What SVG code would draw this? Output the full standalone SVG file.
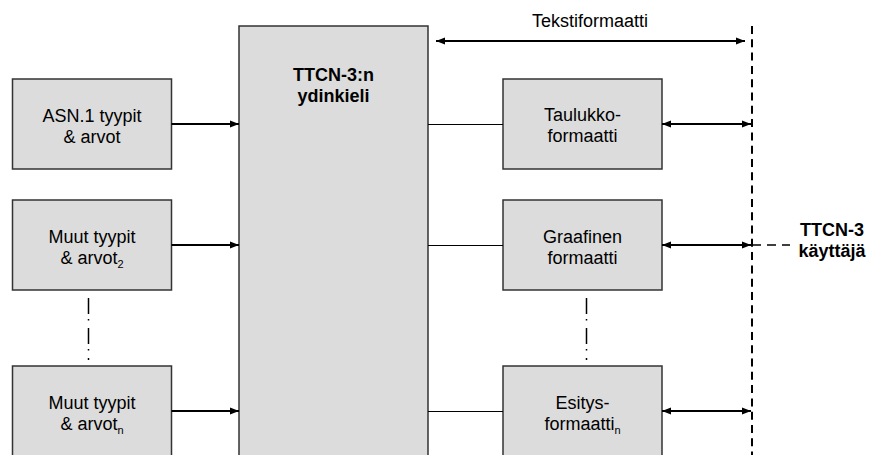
<svg xmlns="http://www.w3.org/2000/svg" width="869" height="455" viewBox="0 0 869 455">
  <defs>
    <marker id="head" viewBox="0 0 10 10" refX="10" refY="5" markerWidth="4.5" markerHeight="3.6" orient="auto-start-reverse" markerUnits="strokeWidth" preserveAspectRatio="none">
      <path d="M0,0 L10,5 L0,10 z" fill="#000"/>
    </marker>
    <style>
      .box { fill: #dcdcdc; stroke: #333; stroke-width: 1.5; }
      .lbl { font-family: "Liberation Sans", Arial, sans-serif; font-size: 18px; fill: #000; text-anchor: middle; }
      .bold { font-weight: bold; }
      .sub { font-size: 11px; }
      .arrow { stroke: #000; stroke-width: 2; fill: none; marker-end: url(#head); }
      .both { stroke: #000; stroke-width: 2; fill: none; marker-start: url(#head); marker-end: url(#head); }
      .thin { stroke: #000; stroke-width: 1; fill: none; }
      .dash { stroke: #000; stroke-width: 2; fill: none; stroke-dasharray: 8 5.3; }
      .dotdash { stroke: #000; stroke-width: 1.5; fill: none; stroke-dasharray: 16 5 1.5 7.5; }
    </style>
  </defs>
  <rect width="869" height="455" fill="#fff"/>

  <!-- core language block -->
  <g id="core">
    <rect class="box" x="239" y="26" width="189" height="440"/>
    <text class="lbl bold" x="333.5" y="81">TTCN-3:n</text>
    <text class="lbl bold" x="333.5" y="102">ydinkieli</text>
  </g>

  <!-- input type systems -->
  <g id="asn1">
    <rect class="box" x="12.5" y="79" width="159" height="90"/>
    <text class="lbl" x="92" y="121.5">ASN.1 tyypit</text>
    <text class="lbl" x="92" y="142.5">&amp; arvot</text>
  </g>
  <g id="other2">
    <rect class="box" x="12.5" y="200" width="159" height="90"/>
    <text class="lbl" x="92" y="243">Muut tyypit</text>
    <text class="lbl" x="92" y="264">&amp; arvot<tspan class="sub" dy="4">2</tspan></text>
  </g>
  <g id="othern">
    <rect class="box" x="12.5" y="366" width="159" height="90"/>
    <text class="lbl" x="92" y="409">Muut tyypit</text>
    <text class="lbl" x="92" y="430">&amp; arvot<tspan class="sub" dy="4">n</tspan></text>
  </g>

  <!-- presentation formats -->
  <g id="table">
    <rect class="box" x="503" y="79" width="159" height="90"/>
    <text class="lbl" x="582.5" y="121">Taulukko-</text>
    <text class="lbl" x="582.5" y="142">formaatti</text>
  </g>
  <g id="graphic">
    <rect class="box" x="503" y="200" width="159" height="90"/>
    <text class="lbl" x="582.5" y="243">Graafinen</text>
    <text class="lbl" x="582.5" y="264">formaatti</text>
  </g>
  <g id="presn">
    <rect class="box" x="503" y="366" width="159" height="90"/>
    <text class="lbl" x="582.5" y="409">Esitys-</text>
    <text class="lbl" x="582.5" y="430">formaatti<tspan class="sub" dy="4">n</tspan></text>
  </g>

  <!-- user side -->
  <g id="user">
    <text class="lbl bold" x="832" y="236">TTCN-3</text>
    <text class="lbl bold" x="832" y="257">käyttäjä</text>
  </g>
  <g id="textformat">
    <text class="lbl" x="590" y="27">Tekstiformaatti</text>
  </g>

  <g id="connectors">
    <!-- types into the core -->
    <path class="arrow" d="M171.5,124 H239"/>
    <path class="arrow" d="M171.5,245 H239"/>
    <path class="arrow" d="M171.5,411 H239"/>
    <!-- core to formats -->
    <path class="thin" d="M428,124.5 H503"/>
    <path class="thin" d="M428,245.5 H503"/>
    <path class="thin" d="M428,411.5 H503"/>
    <!-- formats to user boundary -->
    <path class="both" d="M436,41 H745"/>
    <path class="both" d="M662,124 H751"/>
    <path class="both" d="M662,245 H751"/>
    <path class="both" d="M662,411 H751"/>
    <!-- user boundary -->
    <path class="dash" d="M752,26 V455"/>
    <path class="dash" d="M752,245 H790" style="stroke-width:1.5;stroke-dasharray:9 6"/>
    <!-- elided items -->
    <path class="dotdash" d="M88.5,298 V360"/>
    <path class="dotdash" d="M586.5,298 V360"/>
  </g>
</svg>
